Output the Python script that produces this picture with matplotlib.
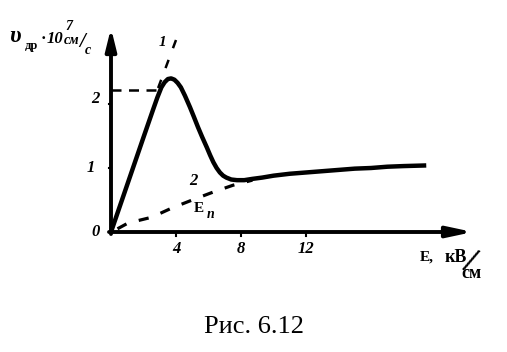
import matplotlib
matplotlib.use("Agg")
import matplotlib.pyplot as plt

# curve 1: drift velocity vs field
e1 = [0, 1.0, 2.0, 2.6, 2.85, 3.1, 3.3, 3.5, 3.7, 3.9, 4.1, 4.3, 4.55, 4.86, 5.1, 5.35,
      5.6, 5.9, 6.1, 6.3, 6.5, 6.7, 6.9, 7.1, 7.4, 7.75, 8.2, 8.7, 9.3, 10, 11, 12,
      13, 14, 15, 16, 17, 18, 19.4]
v1 = [0, 0.74, 1.48, 1.92, 2.1, 2.26, 2.34, 2.39, 2.4, 2.38, 2.33, 2.26, 2.13, 1.95, 1.8, 1.64,
      1.49, 1.32, 1.2, 1.09, 1.0, 0.93, 0.88, 0.85, 0.82, 0.81, 0.81, 0.83, 0.85, 0.88, 0.91, 0.93,
      0.95, 0.97, 0.99, 1.0, 1.02, 1.03, 1.04]

# dashed continuation of linear part (1)
e1_ext = [2.9, 4.0]
v1_ext = [2.25, 3.0]

# dashed curve 2
e2 = [0.4, 1.05, 2.5, 3.75, 5.0, 6.3, 7.5, 8.7]
v2 = [0.05, 0.14, 0.23, 0.375, 0.5, 0.625, 0.73, 0.81]

# horizontal dashed level
v_level = 2.22
e_level = 2.85

xticks = [4, 8, 12]
xlabels = ["4", "8", "12"]
yticks = [1, 2]
ylabels = ["1", "2"]

# pixel mapping for the figure (origin at px 111,232)
X0, Y0, SX, SY = 111, 232, 16.25, 64.0


def px(x, y):
    return (x - X0) / SX, (Y0 - y) / SY


fig = plt.figure(figsize=(5.07, 3.52), dpi=100)
ax = fig.add_axes([0, 0, 1, 1])
ax.set_xlim(-X0 / SX, (507 - X0) / SX)
ax.set_ylim((Y0 - 352) / SY, Y0 / SY)
ax.axis("off")

bi = dict(family="Liberation Serif", weight="bold", style="italic", color="black")
bd = dict(family="Liberation Serif", weight="bold", color="black")

# axes with arrows
ax.annotate("", xy=px(473, 232), xytext=px(109, 232),
            arrowprops=dict(arrowstyle="-|>,head_length=1.5,head_width=0.32",
                            lw=2.8, color="black", shrinkA=0, shrinkB=0))
ax.annotate("", xy=px(111, 28), xytext=px(111, 234),
            arrowprops=dict(arrowstyle="-|>,head_length=1.3,head_width=0.32",
                            lw=2.8, color="black", shrinkA=0, shrinkB=0))

# ticks
for t in xticks:
    ax.plot([t, t], [0, -0.07], color="black", lw=1.5)
for t in yticks:
    ax.plot([0, -0.12], [t, t], color="black", lw=1.5)

# curves
ax.plot(e1, v1, color="black", lw=3.2, solid_capstyle="butt", solid_joinstyle="round")
ax.plot(e1_ext, v1_ext, color="black", lw=1.8, dashes=(3.5, 5))
ax.plot(e2, v2, color="black", lw=2.3, dashes=(3.2, 4.0))
ax.plot([0, e_level], [v_level, v_level], color="black", lw=1.8, dashes=(4, 3))

# tick labels
for t, s in zip(xticks, xlabels):
    ax.text(t, -0.27, s, ha="center", va="center", fontsize=12, **bi)
ax.text(*px(96, 232), "0", ha="center", va="center", fontsize=12, **bi)
ax.text(*px(91, 168), ylabels[0], ha="center", va="center", fontsize=12, **bi)
ax.text(*px(95, 99), ylabels[1], ha="center", va="center", fontsize=12, **bi)

# y axis label
ax.text(*px(9, 37), "υ", ha="left", va="center", fontsize=17, **bi)
ax.text(*px(25, 46), "др", ha="left", va="center", fontsize=9, **bd)
ax.text(*px(41, 39), "·", ha="left", va="center", fontsize=12, **bd)
ax.text(*px(47, 39), "10", ha="left", va="center", fontsize=12, **bi)
ax.text(*px(65, 26), "7", ha="left", va="center", fontsize=10, **bi)
ax.text(*px(64, 40), "см", ha="left", va="center", fontsize=10, **bi)
ax.text(*px(79, 42), "/", ha="left", va="center", fontsize=15, **bi)
ax.text(*px(85, 50), "с", ha="left", va="center", fontsize=10, **bi)

# curve labels
ax.text(*px(162, 42), "1", ha="center", va="center", fontsize=11, **bi)
ax.text(*px(193, 181), "2", ha="center", va="center", fontsize=12, **bi)
ax.text(*px(199, 209), "E", ha="center", va="center", fontsize=11, **bd)
ax.text(*px(211, 214), "п", ha="center", va="center", fontsize=10, **bi)

# x axis label
ax.text(*px(420, 257), "E,", ha="left", va="center", fontsize=11, **bd)
ax.text(*px(445, 257), "кВ", ha="left", va="center", fontsize=13, **bd)
ax.text(*px(469, 263), "/", ha="center", va="center", fontsize=25, rotation=-22, **bd)
ax.text(*px(461, 273), "см", ha="left", va="center", fontsize=13, **bd)

# caption
ax.text(*px(254, 327), "Рис. 6.12", ha="center", va="center", fontsize=19,
        family="Liberation Serif", color="black")

fig.savefig("out.png", dpi=100)
